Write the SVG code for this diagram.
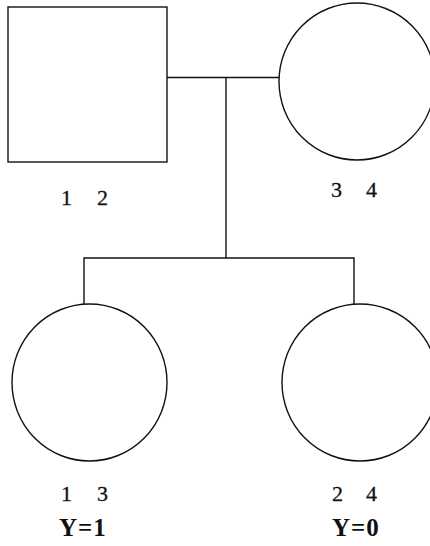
<svg xmlns="http://www.w3.org/2000/svg" width="430" height="546" viewBox="0 0 430 546">
<style>
.shape{fill:none;stroke:#111;stroke-width:1.4}
.con{fill:none;stroke:#111;stroke-width:1.4}
.lbl{font-family:"Liberation Serif","Times New Roman",serif;font-size:22px;fill:#111;stroke:#111;stroke-width:0.3}
.y{font-family:"Liberation Serif","Times New Roman",serif;font-size:25px;font-weight:bold;fill:#111;letter-spacing:1px}
</style>
<rect width="430" height="546" fill="#fff"/>
<g id="connectors">
<path class="con" d="M167 77.5H279"/>
<path class="con" d="M226 77.5V258"/>
<path class="con" d="M84 304V258H354V304"/>
</g>
<g id="father">
<rect class="shape" x="8" y="7" width="159" height="155"/>
<text class="lbl" x="61" y="205">1</text><text class="lbl" x="97" y="205">2</text>
</g>
<g id="mother">
<ellipse class="shape" cx="357" cy="81.5" rx="78" ry="78.5"/>
<text class="lbl" x="331" y="197">3</text><text class="lbl" x="366" y="197">4</text>
</g>
<g id="child1">
<ellipse class="shape" cx="89.5" cy="382.5" rx="77.5" ry="78.5"/>
<text class="lbl" x="61" y="501">1</text><text class="lbl" x="97" y="501">3</text>
<text class="y" x="59" y="536">Y=1</text>
</g>
<g id="child2">
<ellipse class="shape" cx="360" cy="382.5" rx="78" ry="78.5"/>
<text class="lbl" x="332" y="501">2</text><text class="lbl" x="366" y="501">4</text>
<text class="y" x="332" y="536">Y=0</text>
</g>
</svg>
